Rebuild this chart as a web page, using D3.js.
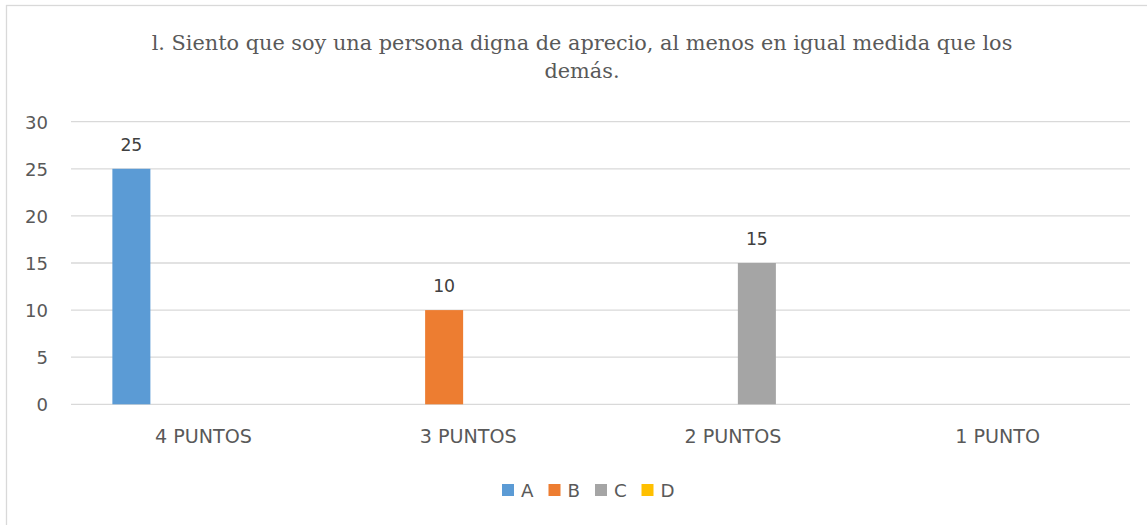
<!DOCTYPE html>
<html>
<head>
<meta charset="utf-8">
<script src="https://cdn.jsdelivr.net/npm/d3@7"></script>
<style>
  html, body { margin: 0; padding: 0; background: #fff; }
  svg { display: block; }
  svg text.ttl { font-family: "DejaVu Serif", "Liberation Serif", serif; }
  svg text.lbl { font-family: "DejaVu Sans", sans-serif; }
</style>
</head>
<body>
<svg id="chart" width="1147" height="525"></svg>
<script>
// ---- data ----
const titleLines = ["l. Siento que soy una persona digna de aprecio, al menos en igual medida que los", "demás."];
const categories = ["4 PUNTOS", "3 PUNTOS", "2 PUNTOS", "1 PUNTO"];
const seriesNames = ["A", "B", "C", "D"];
const seriesA = [25, null, null, null];
const seriesB = [null, 10, null, null];
const seriesC = [null, null, 15, null];
const seriesD = [null, null, null, null];
const seriesColors = ["#5B9BD5", "#ED7D31", "#A5A5A5", "#FFC000"];
const yTicks = [0, 5, 10, 15, 20, 25, 30];

const seriesValues = [seriesA, seriesB, seriesC, seriesD];

// ---- layout ----
const svg = d3.select("#chart");
const W = 1147, H = 525;
const plot = { left: 71, right: 1130, top: 121.7, bottom: 404.3 };
const textColor = "#595959";

// font size that makes `str` (in class cls) span `target` px
function fitSize(cls, str, target) {
  const t = svg.append("text").attr("class", cls).attr("font-size", 100).text(str);
  const len = t.node().getComputedTextLength();
  t.remove();
  return len > 0 ? 100 * target / len : 20;
}
const titleSize = Math.min(27, fitSize("ttl", titleLines[0], 861));
const catSize = fitSize("lbl", "3 PUNTOS", 97);
const tickSize = fitSize("lbl", "30", 23);
const valSize = fitSize("lbl", "25", 22);
const legSize = fitSize("lbl", "A", 12.5);

// chart frame (cropped at right/bottom)
svg.append("rect")
  .attr("x", 6.5).attr("y", 5.5)
  .attr("width", W + 20).attr("height", H + 20)
  .attr("fill", "#fff").attr("stroke", "#D9D9D9").attr("stroke-width", 1.3);

// title
svg.append("g").selectAll("text").data(titleLines).join("text")
  .attr("class", "ttl")
  .attr("x", 582).attr("y", (d, i) => 50 + i * 28)
  .attr("text-anchor", "middle")
  .attr("font-size", titleSize)
  .attr("fill", textColor)
  .text(d => d);

// scales
const x0 = d3.scaleBand().domain(categories).range([plot.left, plot.right]).paddingInner(0).paddingOuter(0);
const x1 = d3.scaleBand().domain(seriesNames).range([0, x0.bandwidth()]).paddingInner(0.208).paddingOuter(0.862);
const y = d3.scaleLinear().domain([0, 30]).range([plot.bottom, plot.top]);

// gridlines
svg.append("g").selectAll("line").data(yTicks).join("line")
  .attr("x1", plot.left).attr("x2", plot.right)
  .attr("y1", d => y(d)).attr("y2", d => y(d))
  .attr("stroke", "#D9D9D9").attr("stroke-width", 1.3);

// y axis labels
const yAxis = d3.axisLeft(y).tickValues(yTicks).tickSize(0).tickPadding(0);
const gy = svg.append("g").attr("transform", `translate(48,0)`).call(yAxis);
gy.select(".domain").remove();
gy.selectAll("text")
  .attr("class", "lbl").attr("font-size", tickSize).attr("fill", textColor)
  .attr("dy", "0.36em");

// x axis labels
const xAxis = d3.axisBottom(x0).tickSize(0).tickPadding(0);
const gx = svg.append("g").attr("transform", `translate(0,${plot.bottom})`).call(xAxis);
gx.select(".domain").remove();
gx.selectAll("text")
  .attr("class", "lbl").attr("font-size", catSize).attr("fill", textColor)
  .attr("dy", 0).attr("y", 39);

// bars
const barData = [];
seriesValues.forEach((vals, si) => {
  vals.forEach((v, ci) => {
    if (v !== null) barData.push({ series: seriesNames[si], cat: categories[ci], value: v, color: seriesColors[si] });
  });
});
svg.append("g").selectAll("rect").data(barData).join("rect")
  .attr("x", d => x0(d.cat) + x1(d.series))
  .attr("y", d => y(d.value))
  .attr("width", x1.bandwidth())
  .attr("height", d => y(0) - y(d.value))
  .attr("fill", d => d.color);

// data labels
svg.append("g").selectAll("text").data(barData).join("text")
  .attr("class", "lbl")
  .attr("x", d => x0(d.cat) + x1(d.series) + x1.bandwidth() / 2)
  .attr("y", d => y(d.value) - 18)
  .attr("text-anchor", "middle")
  .attr("font-size", valSize).attr("fill", "#404040")
  .text(d => d.value);

// legend
const legendX = 502, legendStep = 46.5, legendY = 490;
const lg = svg.append("g").selectAll("g").data(seriesNames).join("g")
  .attr("transform", (d, i) => `translate(${legendX + i * legendStep},${legendY})`);
lg.append("rect").attr("x", 0).attr("y", -6).attr("width", 12).attr("height", 12)
  .attr("fill", (d, i) => seriesColors[i]);
lg.append("text").attr("class", "lbl").attr("x", 19).attr("y", 0).attr("dy", "0.36em")
  .attr("font-size", legSize).attr("fill", textColor)
  .text(d => d);
</script>
</body>
</html>
